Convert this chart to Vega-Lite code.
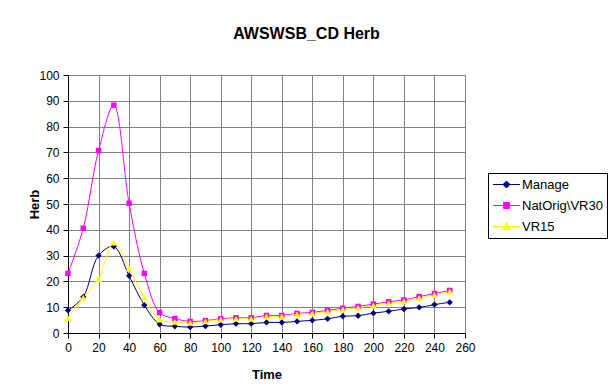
{
  "$schema": "https://vega.github.io/schema/vega-lite/v6.json",
  "width": 397,
  "height": 258,
  "autosize": {"type": "none"},
  "padding": {"left": 68, "top": 75, "right": 148, "bottom": 58},
  "background": "white",
  "title": {"text": "AWSWSB_CD Herb", "fontSize": 16, "font": "Liberation Sans", "fontWeight": "bold", "color": "black", "anchor": "middle", "frame": "group", "dx": 40, "baseline": "middle", "offset": 19},
  "config": {
    "view": {"stroke": "#808080", "strokeWidth": 1},
    "axis": {"labelFont": "Liberation Sans", "labelFontSize": 12, "labelColor": "black", "titleFont": "Liberation Sans", "titleFontSize": 13, "titleFontWeight": "bold", "titleColor": "black", "domainColor": "black", "tickColor": "black", "tickSize": 5, "gridColor": "#808080", "gridOpacity": 1, "gridWidth": 1, "labelPadding": 4}
  },
  "data": {"values": [
    {"Time": 0, "Series": "Manage", "Herb": 8.8},
    {"Time": 10, "Series": "Manage", "Herb": 14.0},
    {"Time": 20, "Series": "Manage", "Herb": 30.0},
    {"Time": 30, "Series": "Manage", "Herb": 33.5},
    {"Time": 40, "Series": "Manage", "Herb": 22.2},
    {"Time": 50, "Series": "Manage", "Herb": 10.8},
    {"Time": 60, "Series": "Manage", "Herb": 3.4},
    {"Time": 70, "Series": "Manage", "Herb": 2.6},
    {"Time": 80, "Series": "Manage", "Herb": 2.3},
    {"Time": 90, "Series": "Manage", "Herb": 2.7},
    {"Time": 100, "Series": "Manage", "Herb": 3.2},
    {"Time": 110, "Series": "Manage", "Herb": 3.6},
    {"Time": 120, "Series": "Manage", "Herb": 3.6},
    {"Time": 130, "Series": "Manage", "Herb": 4.1},
    {"Time": 140, "Series": "Manage", "Herb": 4.1},
    {"Time": 150, "Series": "Manage", "Herb": 4.5},
    {"Time": 160, "Series": "Manage", "Herb": 4.9},
    {"Time": 170, "Series": "Manage", "Herb": 5.5},
    {"Time": 180, "Series": "Manage", "Herb": 6.5},
    {"Time": 190, "Series": "Manage", "Herb": 6.7},
    {"Time": 200, "Series": "Manage", "Herb": 7.7},
    {"Time": 210, "Series": "Manage", "Herb": 8.4},
    {"Time": 220, "Series": "Manage", "Herb": 9.3},
    {"Time": 230, "Series": "Manage", "Herb": 9.9},
    {"Time": 240, "Series": "Manage", "Herb": 11.0},
    {"Time": 250, "Series": "Manage", "Herb": 11.9},
    {"Time": 0, "Series": "NatOrig\\VR30", "Herb": 23.1},
    {"Time": 10, "Series": "NatOrig\\VR30", "Herb": 40.6},
    {"Time": 20, "Series": "NatOrig\\VR30", "Herb": 70.7},
    {"Time": 30, "Series": "NatOrig\\VR30", "Herb": 88.3},
    {"Time": 40, "Series": "NatOrig\\VR30", "Herb": 50.3},
    {"Time": 50, "Series": "NatOrig\\VR30", "Herb": 23.1},
    {"Time": 60, "Series": "NatOrig\\VR30", "Herb": 7.9},
    {"Time": 70, "Series": "NatOrig\\VR30", "Herb": 5.6},
    {"Time": 80, "Series": "NatOrig\\VR30", "Herb": 4.5},
    {"Time": 90, "Series": "NatOrig\\VR30", "Herb": 4.8},
    {"Time": 100, "Series": "NatOrig\\VR30", "Herb": 5.5},
    {"Time": 110, "Series": "NatOrig\\VR30", "Herb": 5.9},
    {"Time": 120, "Series": "NatOrig\\VR30", "Herb": 5.9},
    {"Time": 130, "Series": "NatOrig\\VR30", "Herb": 6.8},
    {"Time": 140, "Series": "NatOrig\\VR30", "Herb": 6.8},
    {"Time": 150, "Series": "NatOrig\\VR30", "Herb": 7.6},
    {"Time": 160, "Series": "NatOrig\\VR30", "Herb": 8.0},
    {"Time": 170, "Series": "NatOrig\\VR30", "Herb": 8.8},
    {"Time": 180, "Series": "NatOrig\\VR30", "Herb": 9.6},
    {"Time": 190, "Series": "NatOrig\\VR30", "Herb": 10.3},
    {"Time": 200, "Series": "NatOrig\\VR30", "Herb": 11.2},
    {"Time": 210, "Series": "NatOrig\\VR30", "Herb": 12.1},
    {"Time": 220, "Series": "NatOrig\\VR30", "Herb": 12.8},
    {"Time": 230, "Series": "NatOrig\\VR30", "Herb": 14.1},
    {"Time": 240, "Series": "NatOrig\\VR30", "Herb": 15.3},
    {"Time": 250, "Series": "NatOrig\\VR30", "Herb": 16.5},
    {"Time": 0, "Series": "VR15", "Herb": 5.8},
    {"Time": 10, "Series": "VR15", "Herb": 13.7},
    {"Time": 20, "Series": "VR15", "Herb": 20.9},
    {"Time": 30, "Series": "VR15", "Herb": 35.0},
    {"Time": 40, "Series": "VR15", "Herb": 25.0},
    {"Time": 50, "Series": "VR15", "Herb": 13.7},
    {"Time": 60, "Series": "VR15", "Herb": 5.2},
    {"Time": 70, "Series": "VR15", "Herb": 4.3},
    {"Time": 80, "Series": "VR15", "Herb": 3.9},
    {"Time": 90, "Series": "VR15", "Herb": 4.5},
    {"Time": 100, "Series": "VR15", "Herb": 5.2},
    {"Time": 110, "Series": "VR15", "Herb": 5.5},
    {"Time": 120, "Series": "VR15", "Herb": 5.5},
    {"Time": 130, "Series": "VR15", "Herb": 6.4},
    {"Time": 140, "Series": "VR15", "Herb": 6.4},
    {"Time": 150, "Series": "VR15", "Herb": 7.2},
    {"Time": 160, "Series": "VR15", "Herb": 7.6},
    {"Time": 170, "Series": "VR15", "Herb": 8.3},
    {"Time": 180, "Series": "VR15", "Herb": 9.1},
    {"Time": 190, "Series": "VR15", "Herb": 9.8},
    {"Time": 200, "Series": "VR15", "Herb": 10.7},
    {"Time": 210, "Series": "VR15", "Herb": 11.6},
    {"Time": 220, "Series": "VR15", "Herb": 12.3},
    {"Time": 230, "Series": "VR15", "Herb": 13.6},
    {"Time": 240, "Series": "VR15", "Herb": 14.8},
    {"Time": 250, "Series": "VR15", "Herb": 16.1}
  ]},
  "encoding": {
    "x": {"field": "Time", "type": "quantitative", "title": "Time", "scale": {"domain": [0, 260], "nice": false, "zero": false}, "axis": {"values": [0,20,40,60,80,100,120,140,160,180,200,220,240,260], "titlePadding": 15, "labelFlush": false}},
    "y": {"field": "Herb", "type": "quantitative", "title": "Herb", "scale": {"domain": [0, 100], "nice": false}, "axis": {"values": [0,10,20,30,40,50,60,70,80,90,100], "titleX": -34, "titleBaseline": "middle"}},
    "color": {"field": "Series", "type": "nominal", "scale": {"domain": ["Manage", "NatOrig\\VR30", "VR15"], "range": ["#000080", "#FF00FF", "#FFFF00"]}}
  },
  "layer": [
    {
      "mark": {"type": "line", "interpolate": "catmull-rom", "strokeWidth": 1},
      "encoding": {
        "color": {"field": "Series", "type": "nominal", "legend": {
          "title": null, "orient": "none", "legendX": 420, "legendY": 98,
          "strokeColor": "black", "fillColor": "white", "padding": 4,
          "labelFont": "Liberation Sans", "labelFontSize": 13, "labelColor": "black",
          "symbolSize": 196, "symbolStrokeWidth": 1, "symbolOffset": 7, "labelOffset": 8, "rowPadding": 6,
          "encode": {"symbols": {"update": {
            "shape": {"signal": "datum.value == 'Manage' ? 'M-1.93,0H1.93M0,-0.5L0.5,0L0,0.5L-0.5,0Z' : datum.value == 'VR15' ? 'M-1.93,0H1.93M0,-0.58L0.58,0.42H-0.58Z' : 'M-1.93,0H1.93M-0.43,-0.43H0.43V0.43H-0.43Z'"},
            "fill": {"scale": "color", "field": "value"},
            "stroke": {"scale": "color", "field": "value"},
            "opacity": {"value": 1}
          }}}
        }}
      }
    },
    {
      "transform": [{"filter": "datum.Series == 'Manage'"}],
      "mark": {"type": "point", "filled": true, "opacity": 1, "shape": "diamond", "size": 40},
      "encoding": {"color": {"field": "Series", "type": "nominal", "legend": null}}
    },
    {
      "transform": [{"filter": "datum.Series == 'NatOrig\\\\VR30'"}],
      "mark": {"type": "point", "filled": true, "opacity": 1, "shape": "square", "size": 30},
      "encoding": {"color": {"field": "Series", "type": "nominal", "legend": null}}
    },
    {
      "transform": [{"filter": "datum.Series == 'VR15'"}],
      "mark": {"type": "point", "filled": true, "opacity": 1, "shape": "triangle-up", "size": 45},
      "encoding": {"color": {"field": "Series", "type": "nominal", "legend": null}}
    }
  ]
}
